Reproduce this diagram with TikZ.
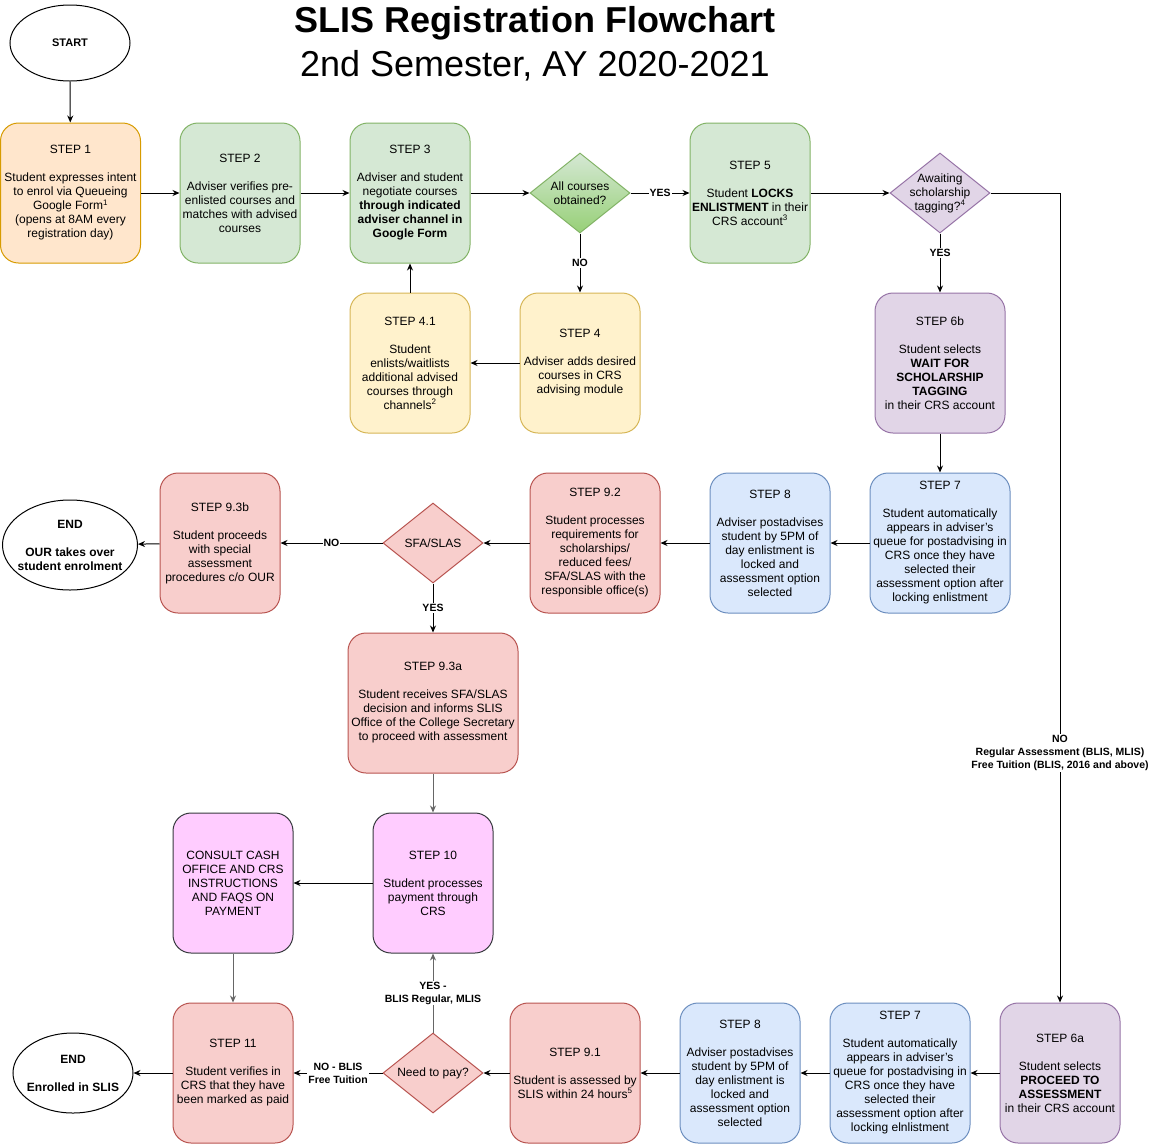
\documentclass[tikz,border=0pt]{standalone}
\usepackage{fontspec}
\setmainfont{Liberation Sans}
\usetikzlibrary{arrows.meta,positioning,shapes.geometric}
\definecolor{orangefill}{HTML}{FFE6CC}
\definecolor{orangeline}{HTML}{D79B00}
\definecolor{greenfill}{HTML}{D5E8D4}
\definecolor{greendark}{HTML}{97D077}
\definecolor{greenline}{HTML}{82B366}
\definecolor{yellowfill}{HTML}{FFF2CC}
\definecolor{yellowline}{HTML}{D6B656}
\definecolor{purplefill}{HTML}{E1D5E7}
\definecolor{purpleline}{HTML}{9673A6}
\definecolor{bluefill}{HTML}{DAE8FC}
\definecolor{blueline}{HTML}{6C8EBF}
\definecolor{redfill}{HTML}{F8CECC}
\definecolor{redline}{HTML}{B85450}
\definecolor{pinkfill}{HTML}{FFCCFF}
\definecolor{pinkline}{HTML}{36393D}
\definecolor{edgegrey}{HTML}{666666}

\begin{document}
\begin{tikzpicture}[x=1pt,y=-1pt]
\tikzset{stepbox/.style={rectangle, rounded corners=18pt, draw, line width=1pt,
minimum width=120pt, minimum height=140pt, inner sep=0pt, align=center,
font=\fontsize{12}{14}\selectfont}}
\tikzset{orangebox/.style={stepbox, fill=orangefill, draw=orangeline}}
\tikzset{greenbox/.style={stepbox, fill=greenfill, draw=greenline}}
\tikzset{yellowbox/.style={stepbox, fill=yellowfill, draw=yellowline}}
\tikzset{purplebox/.style={stepbox, fill=purplefill, draw=purpleline}}
\tikzset{bluebox/.style={stepbox, fill=bluefill, draw=blueline}}
\tikzset{redbox/.style={stepbox, fill=redfill, draw=redline}}
\tikzset{pinkbox/.style={stepbox, fill=pinkfill, draw=pinkline}}
\tikzset{decision/.style={diamond, draw, line width=1pt, minimum width=100pt,
minimum height=80pt, inner sep=-12pt, align=center, font=\fontsize{12}{14}\selectfont}}
\tikzset{terminal/.style={ellipse, draw, line width=1pt, inner sep=-10pt, align=center,
font=\bfseries\fontsize{12}{14}\selectfont}}
\tikzset{flow/.style={draw, line width=1pt, -{Stealth[length=7pt,width=6pt]}}}
\tikzset{lbl/.style={fill=white, text=black, inner sep=1pt, align=center,
font=\bfseries\fontsize{10.5}{13}\selectfont}}
\useasboundingbox (0,0) rectangle (1154,1144);

\node[terminal, minimum width=120pt, minimum height=76pt,
font=\bfseries\fontsize{11}{13}\selectfont] (start) at (70,43) {START};
\node[align=center, font=\fontsize{36}{44}\selectfont] (title) at (535,44)
{\bfseries SLIS Registration Flowchart\\2nd Semester, AY 2020-2021};

\node[orangebox, minimum width=140pt] (s1) at (70.5,193)
{STEP 1\\[14pt]Student expresses intent\\to enrol via Queueing\\Google Form\textsuperscript{1}\\(opens at 8AM every\\registration day)};
\node[greenbox] (s2) at (240,193)
{STEP 2\\[14pt]Adviser verifies pre-\\enlisted courses and\\matches with advised\\courses};
\node[greenbox] (s3) at (410,193)
{STEP 3\\[14pt]Adviser and student\\negotiate courses\\\textbf{through indicated}\\\textbf{adviser channel in}\\\textbf{Google Form}};
\node[decision, draw=greenline, top color=greenfill, bottom color=greendark] (allc) at (580,193)
{All courses\\obtained?};
\node[greenbox] (s5) at (750,193)
{STEP 5\\[14pt]Student \textbf{LOCKS}\\\textbf{ENLISTMENT} in their\\CRS account\textsuperscript{3}};
\node[decision, fill=purplefill, draw=purpleline] (tag) at (940,193)
{Awaiting\\scholarship\\tagging?\textsuperscript{4}};

\node[yellowbox] (s41) at (410,363)
{STEP 4.1\\[14pt]Student\\enlists/waitlists\\additional advised\\courses through\\channels\textsuperscript{2}};
\node[yellowbox] (s4) at (580,363)
{STEP 4\\[14pt]Adviser adds desired\\courses in CRS\\advising module};
\node[purplebox, minimum width=130pt] (s6b) at (940,363)
{STEP 6b\\[14pt]Student selects\\\textbf{WAIT FOR}\\\textbf{SCHOLARSHIP}\\\textbf{TAGGING}\\in their CRS account};

\node[bluebox, minimum width=140pt] (s7) at (940,543)
{STEP 7\\[14pt]Student automatically\\appears in adviser's\\queue for postadvising in\\CRS once they have\\selected their\\assessment option after\\locking enlistment};
\node[bluebox] (s8) at (770,543)
{STEP 8\\[14pt]Adviser postadvises\\student by 5PM of\\day enlistment is\\locked and\\assessment option\\selected};
\node[redbox, minimum width=130pt] (s92) at (595,543)
{STEP 9.2\\[14pt]Student processes\\requirements for\\scholarships/\\reduced fees/\\SFA/SLAS with the\\responsible office(s)};
\node[decision, fill=redfill, draw=redline] (sfa) at (433,543) {SFA/SLAS};
\node[redbox] (s93b) at (220,543)
{STEP 9.3b\\[14pt]Student proceeds\\with special\\assessment\\procedures c/o OUR};
\node[terminal, minimum width=135pt, minimum height=90pt] (end1) at (70,545)
{END\\[14pt]OUR takes over\\student enrolment};
\node[redbox, minimum width=170pt] (s93a) at (433,703)
{STEP 9.3a\\[14pt]Student receives SFA/SLAS\\decision and informs SLIS\\Office of the College Secretary\\to proceed with assessment};

\node[pinkbox] (s10) at (433,883)
{STEP 10\\[14pt]Student processes\\payment through\\CRS};
\node[pinkbox] (cash) at (233,883)
{CONSULT CASH\\OFFICE AND CRS\\INSTRUCTIONS\\AND FAQS ON\\PAYMENT};

\node[purplebox] (s6a) at (1060,1073)
{STEP 6a\\[14pt]Student selects\\\textbf{PROCEED TO}\\\textbf{ASSESSMENT}\\in their CRS account};
\node[bluebox, minimum width=140pt] (s7b) at (900,1073)
{STEP 7\\[14pt]Student automatically\\appears in adviser's\\queue for postadvising in\\CRS once they have\\selected their\\assessment option after\\locking elnlistment};
\node[bluebox] (s8b) at (740,1073)
{STEP 8\\[14pt]Adviser postadvises\\student by 5PM of\\day enlistment is\\locked and\\assessment option\\selected};
\node[redbox, minimum width=130pt] (s91) at (575,1073)
{STEP 9.1\\[14pt]Student is assessed by\\SLIS within 24 hours\textsuperscript{5}};
\node[decision, fill=redfill, draw=redline] (pay) at (433,1073) {Need to pay?};
\node[redbox] (s11) at (233,1073)
{STEP 11\\[14pt]Student verifies in\\CRS that they have\\been marked as paid};
\node[terminal, minimum width=120pt, minimum height=80pt] (end2) at (73,1073)
{END\\[14pt]Enrolled in SLIS};

\draw[flow] (start) -- (s1);
\draw[flow] (s1) -- (s2);
\draw[flow] (s2) -- (s3);
\draw[flow] (s3) -- (allc);
\draw[flow] (allc) -- node[lbl]{YES} (s5);
\draw[flow] (allc) -- node[lbl]{NO} (s4);
\draw[flow] (s4) -- (s41);
\draw[flow] (s41) -- (s3);
\draw[flow] (s5) -- (tag);
\draw[flow] (tag) -- node[lbl, pos=0.33]{YES} (s6b);
\draw[flow] (tag.east) -| node[lbl, pos=0.846]{NO\\Regular Assessment (BLIS, MLIS)\\Free Tuition (BLIS, 2016 and above)} (s6a.north);
\draw[flow] (s6b) -- (s7);
\draw[flow] (s7) -- (s8);
\draw[flow] (s8) -- (s92);
\draw[flow] (s92) -- (sfa);
\draw[flow] (sfa) -- node[lbl]{NO} (s93b);
\draw[flow] (sfa) -- node[lbl]{YES} (s93a);
\draw[flow] (s93b) -- (end1);
\draw[flow, edgegrey] (s93a) -- (s10);
\draw[flow] (s10) -- (cash);
\draw[flow, edgegrey] (cash) -- (s11);
\draw[flow] (s6a) -- (s7b);
\draw[flow] (s7b) -- (s8b);
\draw[flow] (s8b) -- (s91);
\draw[flow] (s91) -- (pay);
\draw[flow, edgegrey] (pay) -- node[lbl]{YES -\\BLIS Regular, MLIS} (s10);
\draw[flow] (pay) -- node[lbl]{NO - BLIS\\Free Tuition} (s11);
\draw[flow] (s11) -- (end2);
\end{tikzpicture}
\end{document}
